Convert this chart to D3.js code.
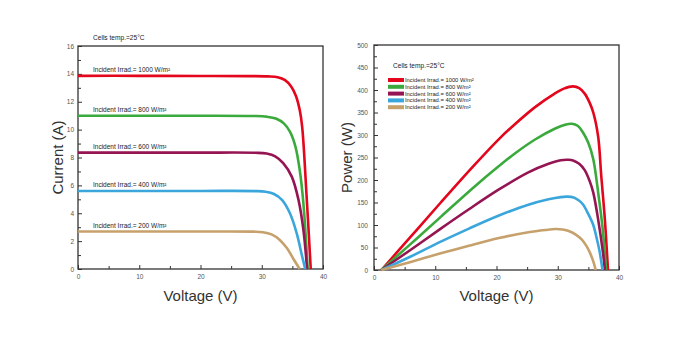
<!DOCTYPE html>
<html>
<head>
<meta charset="utf-8">
<script src="https://cdn.jsdelivr.net/npm/d3@7"></script>
<style>
  body { margin: 0; background: #fff; }
  svg { display: block; font-family: "Liberation Sans", Arial, sans-serif; }
</style>
</head>
<body>
<script>
// series labels + colours
var irradiance = ["1000", "800", "600", "400", "200"];
var colors = ["#e3061c", "#3aaa3c", "#951552", "#3ba6dc", "#c6a16c"];

// I-V curves, [voltage V, current A]
var iv1000 = [[0,13.86],[10,13.86],[20,13.85],[28,13.84],[31,13.82],[32.6,13.76],[33.8,13.55],[34.8,13.1],[35.6,12.4],[36.2,11.4],[36.6,10.2],[37.3,5.4],[38.0,0]];
var iv800  = [[0,11.0],[10,11.0],[20,11.0],[28.6,10.98],[30.8,10.93],[32.4,10.78],[33.6,10.45],[34.6,9.85],[35.5,8.78],[36.2,7.1],[36.8,4.7],[37.5,0]];
var iv600  = [[0,8.35],[10,8.35],[20,8.35],[29,8.34],[30.8,8.28],[32.2,8.08],[33.5,7.59],[34.9,6.63],[36.0,4.96],[36.8,2.81],[37.4,0]];
var iv400  = [[0,5.6],[10,5.6],[20,5.6],[29,5.59],[30.6,5.54],[32,5.38],[33.3,4.96],[34.6,4.0],[35.7,2.58],[36.6,0.9],[37.1,0]];
var iv200  = [[0,2.69],[10,2.69],[20,2.69],[28.6,2.68],[30.2,2.64],[31.6,2.48],[32.9,2.1],[34.1,1.5],[35.2,0.7],[36.2,0]];

// P-V curves, [voltage V, power W]
var pv1000 = [[1.2,0],[6,74],[10.9,150],[16.3,232],[20.4,291],[23,324],[26.3,362],[29.5,392],[31,403],[32.5,408],[33.5,404],[34.4,392],[35.2,372],[35.8,350],[36.6,296],[37.1,210],[37.7,111],[38.2,0]];
var pv800  = [[1.2,0],[6,58],[10.9,118],[16.3,184],[20.4,231],[23,259],[26.3,290],[29.5,314],[31.2,323],[32.3,325],[33.3,320],[34.1,306],[35,282],[35.8,246],[36.6,172],[37.3,96],[37.9,0]];
var pv600  = [[1.2,0],[6,45],[10.9,92],[15.5,135],[20.4,179],[25.2,217],[28.5,236],[30.5,244],[31.7,245],[32.6,243],[33.5,236],[34.4,222],[35.2,198],[35.8,172],[36.6,112],[37.4,37],[37.7,0]];
var pv400  = [[1.2,0],[6,30],[10.9,63],[15.5,92],[20.4,121],[25.2,145],[28.5,157],[30.5,162],[31.6,163],[32.6,161],[33.4,155],[34.1,146],[35,124],[35.8,100],[36.3,74],[36.85,40],[37.3,0]];
var pv200  = [[1.2,0],[6,18],[10.9,37],[15.5,54],[20.4,71],[25.2,84],[28,89],[29.6,91],[30.8,90],[31.9,86],[33,78],[33.9,68],[34.7,53],[35.3,37],[35.8,19],[36.2,0]];

var xTicks = [0, 10, 20, 30, 40];
var xMinor = [5, 15, 25, 35];
var iTicks = [0, 2, 4, 6, 8, 10, 12, 14, 16];
var iMinor = [1, 3, 5, 7, 9, 11, 13, 15];
var pTicks = [0, 50, 100, 150, 200, 250, 300, 350, 400, 450, 500];
var pMinor = [25, 75, 125, 175, 225, 275, 325, 375, 425, 475];

var svg = d3.select("body").append("svg")
    .attr("width", 693)
    .attr("height", 344);

function drawPanel(p) {
    var x = d3.scaleLinear().domain([0, 40]).range([p.left, p.right]);
    var y = d3.scaleLinear().domain([0, p.ymax]).range([p.bottom, p.top]);
    var g = svg.append("g");

    // major + minor ticks, pointing inward
    g.append("g")
        .attr("transform", "translate(0," + p.bottom + ")")
        .call(d3.axisBottom(x).tickValues(xTicks).tickSize(-4).tickPadding(5));
    g.append("g")
        .attr("transform", "translate(0," + p.bottom + ")")
        .call(d3.axisBottom(x).tickValues(xMinor).tickSize(-3).tickFormat(""));
    g.append("g")
        .attr("transform", "translate(" + p.left + ",0)")
        .call(d3.axisLeft(y).tickValues(p.ticks).tickSize(-4).tickPadding(p.pad));
    g.append("g")
        .attr("transform", "translate(" + p.left + ",0)")
        .call(d3.axisLeft(y).tickValues(p.minor).tickSize(-3).tickFormat(""));

    g.selectAll(".domain").remove();
    g.selectAll(".tick line").attr("stroke", "#333").attr("stroke-width", 1);
    g.selectAll(".tick text").attr("fill", "#555").attr("font-size", "6.5px")
        .attr("font-family", "Liberation Sans, Arial, sans-serif");

    g.append("rect")
        .attr("x", p.left).attr("y", p.top)
        .attr("width", p.right - p.left).attr("height", p.bottom - p.top)
        .attr("fill", "none").attr("stroke", "#333").attr("stroke-width", 1.3);

    var line = d3.line()
        .x(function(d) { return x(d[0]); })
        .y(function(d) { return y(d[1]); })
        .curve(d3.curveCatmullRom.alpha(0.5));

    g.selectAll("path.curve")
        .data(p.series)
        .enter()
        .append("path")
        .attr("class", "curve")
        .attr("d", line)
        .attr("fill", "none")
        .attr("stroke", function(d, i) { return colors[i]; })
        .attr("stroke-width", 2.6);

    g.append("text")
        .attr("transform", "translate(" + p.ytitleX + "," + ((p.top + p.bottom) / 2) + ")rotate(-90)")
        .attr("text-anchor", "middle")
        .attr("fill", "#333")
        .attr("font-size", "15px")
        .text(p.ytitle);

    g.append("text")
        .attr("x", (p.left + p.right) / 2)
        .attr("y", 301)
        .attr("text-anchor", "middle")
        .attr("fill", "#333")
        .attr("font-size", "15px")
        .text("Voltage (V)");

    return {x: x, y: y, g: g};
}

// left: current vs voltage
var left = drawPanel({
    left: 78, right: 323, top: 46, bottom: 269,
    ymax: 16, ticks: iTicks, minor: iMinor, pad: 4,
    series: [iv1000, iv800, iv600, iv400, iv200],
    ytitle: "Current (A)", ytitleX: 63
});

left.g.append("text")
    .attr("x", 93).attr("y", 39.5)
    .attr("fill", "#222").attr("font-size", "6.6px")
    .text("Cells temp.=25°C");

left.g.selectAll("text.irr")
    .data([iv1000, iv800, iv600, iv400, iv200])
    .enter()
    .append("text")
    .attr("class", "irr")
    .attr("x", 93)
    .attr("y", function(d) { return left.y(d[0][1]) - 4; })
    .attr("fill", "#222")
    .attr("font-size", "6.5px")
    .text(function(d, i) { return "Incident Irrad.= " + irradiance[i] + " W/m²"; });

// right: power vs voltage
var right = drawPanel({
    left: 374, right: 619, top: 45, bottom: 270,
    ymax: 500, ticks: pTicks, minor: pMinor, pad: 6,
    series: [pv1000, pv800, pv600, pv400, pv200],
    ytitle: "Power (W)", ytitleX: 352
});

right.g.append("text")
    .attr("x", 393).attr("y", 68)
    .attr("fill", "#222").attr("font-size", "6.6px")
    .text("Cells temp.=25°C");

var legend = right.g.selectAll("g.leg")
    .data(irradiance)
    .enter()
    .append("g")
    .attr("class", "leg")
    .attr("transform", function(d, i) { return "translate(388," + (80 + i * 6.8) + ")"; });

legend.append("rect")
    .attr("x", 0).attr("y", -2)
    .attr("width", 16).attr("height", 4)
    .attr("fill", function(d, i) { return colors[i]; });

legend.append("text")
    .attr("x", 17).attr("y", 2)
    .attr("fill", "#222")
    .attr("font-size", "5.8px")
    .text(function(d) { return "Incident Irrad.= " + d + " W/m²"; });
</script>
</body>
</html>
